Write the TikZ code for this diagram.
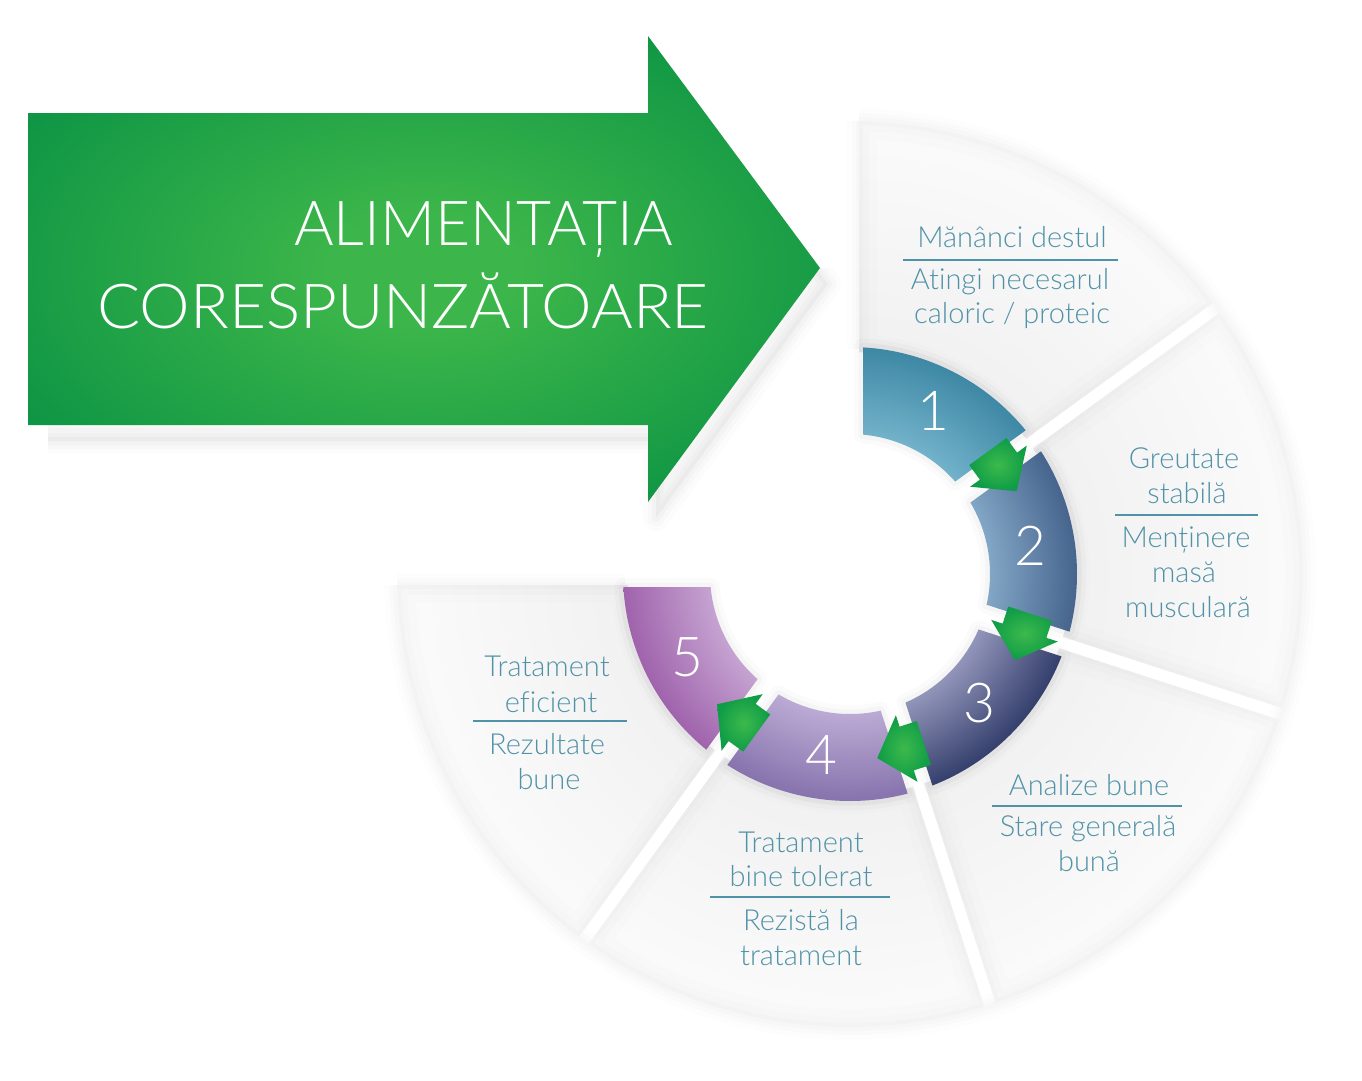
\documentclass[tikz,border=0pt]{standalone}
\usepackage{fontspec}
\setmainfont{Lato Light}[Ligatures=NoCommon]
\definecolor{gIn}{HTML}{3CB64A}
\definecolor{gOut}{HTML}{0A9244}
\definecolor{aIn}{HTML}{3DB94C}
\definecolor{aOut}{HTML}{0E9C46}
\definecolor{txt}{HTML}{5092A7}
\definecolor{pIn}{HTML}{F1F1F1}
\definecolor{pOut}{HTML}{FBFBFB}
\definecolor{s1i}{HTML}{72B2CA}\definecolor{s1o}{HTML}{3E88A5}
\definecolor{s2i}{HTML}{82A6C5}\definecolor{s2o}{HTML}{46648D}
\definecolor{s3i}{HTML}{9295BA}\definecolor{s3o}{HTML}{343F6C}
\definecolor{s4i}{HTML}{BBAAD4}\definecolor{s4o}{HTML}{8773AD}
\definecolor{s5i}{HTML}{C5A3D1}\definecolor{s5o}{HTML}{A063AC}
% the central 50bp square of a shading is mapped to the path's bounding box
\pgfdeclareradialshading{bigG}{\pgfpoint{0bp}{0bp}}{color(0bp)=(gIn); color(6bp)=(gIn); color(32bp)=(gOut); color(50bp)=(gOut)}
\pgfdeclareradialshading{paleS}{\pgfpoint{0bp}{0bp}}{color(0bp)=(pIn); color(12.4bp)=(pIn); color(25bp)=(pOut); color(50bp)=(pOut)}
\pgfdeclareradialshading{ringA}{\pgfpoint{0bp}{0bp}}{color(0bp)=(s1i); color(7.7bp)=(s1i); color(12.5bp)=(s1o); color(50bp)=(s1o)}
\pgfdeclareradialshading{ringB}{\pgfpoint{0bp}{0bp}}{color(0bp)=(s2i); color(7.7bp)=(s2i); color(12.5bp)=(s2o); color(50bp)=(s2o)}
\pgfdeclareradialshading{ringC}{\pgfpoint{0bp}{0bp}}{color(0bp)=(s3i); color(7.7bp)=(s3i); color(12.5bp)=(s3o); color(50bp)=(s3o)}
\pgfdeclareradialshading{ringD}{\pgfpoint{0bp}{0bp}}{color(0bp)=(s4i); color(7.7bp)=(s4i); color(12.5bp)=(s4o); color(50bp)=(s4o)}
\pgfdeclareradialshading{ringE}{\pgfpoint{0bp}{0bp}}{color(0bp)=(s5i); color(7.7bp)=(s5i); color(12.5bp)=(s5o); color(50bp)=(s5o)}
% #1 macro, #2 start angle, #3 end angle, #4 inner r, #5 outer r, #6 offset start, #7 offset end
\newcommand\mkpiece[7]{%
  \pgfmathsetmacro\aOs{#2-asin(#6/#5)}%
  \pgfmathsetmacro\aOe{#3+asin(#7/#5)}%
  \pgfmathsetmacro\aIs{#2-asin(#6/#4)}%
  \pgfmathsetmacro\aIe{#3+asin(#7/#4)}%
  \path[save path=#1] (\aOs:#5) arc[start angle=\aOs, end angle=\aOe, radius=#5]
     -- (\aIe:#4) arc[start angle=\aIe, end angle=\aIs, radius=#4] -- cycle;}
\newcommand\palepiece[1]{%
  \begin{scope}
    \path[clip, use path=#1];
    \shade[shading=paleS] (0,0) circle (454);
    \foreach \w/\o in {36/0.008, 20/0.010, 8/0.012}{\draw[use path=#1, line width=\w, black, opacity=\o];}
  \end{scope}}
\newcommand\ringpiece[2]{%
  \foreach \w/\o in {18/0.016, 9/0.022}{\draw[use path=#1, line width=\w, black, opacity=\o, line join=round];}
  \begin{scope}
    \path[clip, use path=#1];
    \shade[shading=#2] (0,0) circle (454);
  \end{scope}}
\tikzset{
  lbl/.style={text=txt, font=\fontsize{29}{35}\selectfont, anchor=base, inner sep=0pt},
  sepline/.style={draw=txt, line width=1.3},
  num/.style={text=white, font=\fontsize{55}{55}\selectfont, inner sep=0pt},
  title/.style={text=white, font=\fontsize{62}{70}\selectfont, inner sep=0pt, anchor=base west},
  garrow/.style={inner color=aIn, outer color=aOut}
}
\begin{document}
\begin{tikzpicture}[x=1pt,y=1pt]
\useasboundingbox (0,0) rectangle (1362,-1080);
\fill[white] (0,0) rectangle (1362,-1080);

% ---- shadow of the big arrow (only below / lower right)
\begin{scope}
  \clip (48,-268) rectangle (1000,-700);
  \begin{scope}[xshift=8, yshift=-16]
    \foreach \w/\o in {26/0.012, 16/0.016, 8/0.02}{
      \draw[line width=\w, black, opacity=\o, line join=round] (28,-113) -- (648,-113) -- (648,-36) -- (820,-268) -- (648,-502) -- (648,-425) -- (28,-425) -- cycle;}
    \fill[black, opacity=0.03] (28,-113) -- (648,-113) -- (648,-36) -- (820,-268) -- (648,-502) -- (648,-425) -- (28,-425) -- cycle;
  \end{scope}
\end{scope}
% ---- big green arrow
\shade[shading=bigG] (28,-113) -- (648,-113) -- (648,-36) -- (820,-268) -- (648,-502) -- (648,-425) -- (28,-425) -- cycle;
\node[title] (t1) at (294,-245) {\scalebox{0.977}[1]{ALIMENTAȚIA}};
\node[title] (t2) at (97,-328) {\scalebox{1.03}[1]{CORESPUNZĂTOARE}};

% ---- circular diagram
\begin{scope}[shift={(850,-574)}]
  % outer shadows
  \foreach \w/\o in {24/0.008, 14/0.010, 6/0.012}{
    \draw[line width=\w, black, opacity=\o] (88.9:454) arc[start angle=88.9, end angle=-178.6, radius=454];
    \draw[line width=\w, black, opacity=\o] (9,225) -- (9,453);
    \draw[line width=\w, black, opacity=\o] (-225,-11) -- (-453,-11);
  }
  \mkpiece\pA{90}{36}{222}{453}{9}{6}
  \mkpiece\pB{36}{-18}{222}{453}{6}{6}
  \mkpiece\pC{-18}{-72}{222}{453}{6}{6}
  \mkpiece\pD{-72}{-126}{222}{453}{6}{6}
  \mkpiece\pE{-126}{-180}{222}{453}{6}{11}
  \palepiece\pE
  \palepiece\pD
  \palepiece\pC
  \palepiece\pB
  \palepiece\pA

  % coloured ring
  \mkpiece\rA{90}{36}{140}{227}{13}{13}
  \mkpiece\rB{36}{-18}{140}{227}{13}{13}
  \mkpiece\rC{-18}{-72}{140}{227}{13}{13}
  \mkpiece\rD{-72}{-126}{140}{227}{13}{13}
  \mkpiece\rE{-126}{-180}{140}{227}{13}{13}
  \ringpiece\rA{ringA}
  \ringpiece\rB{ringB}
  \ringpiece\rC{ringC}
  \ringpiece\rD{ringD}
  \ringpiece\rE{ringE}

  % green arrows between the steps
  \foreach \t in {36,-18,-72,-126}{
    \begin{scope}[shift={(\t:183.5)}, rotate=\t-90]
      \shade[garrow] (-18,-23) -- (0,-23) -- (0,-35) -- (31,0) -- (0,35) -- (0,23) -- (-18,23) -- cycle;
    \end{scope}}

  % step numbers
  \node[num] (n1) at (63:183) {1};
  \node[num] (n2) at (9:183) {2};
  \node[num] (n3) at (-45:183) {3};
  \node[num] (n4) at (-99:183) {4};
  \node[num] (n5) at (-153:183) {5};
\end{scope}

% ---- labels
\node[lbl] (l1a) at (1012,-247) {Mănânci destul};
\draw[sepline] (903,-260) -- (1118,-260);
\node[lbl] (l1b) at (1010,-289) {Atingi necesarul};
\node[lbl] (l1c) at (1012,-323) {caloric / proteic};

\node[lbl] (l2a) at (1184,-468) {Greutate};
\node[lbl] (l2b) at (1187,-503) {stabilă};
\draw[sepline] (1115,-515) -- (1258,-515);
\node[lbl] (l2c) at (1186,-547) {Menținere};
\node[lbl] (l2d) at (1184,-582) {masă};
\node[lbl] (l2e) at (1188,-617) {musculară};

\node[lbl] (l3a) at (1089,-795) {Analize bune};
\draw[sepline] (992,-806) -- (1182,-806);
\node[lbl] (l3b) at (1088,-836) {Stare generală};
\node[lbl] (l3c) at (1089,-871) {bună};

\node[lbl] (l4a) at (801,-852) {Tratament};
\node[lbl] (l4b) at (801,-886) {bine tolerat};
\draw[sepline] (710,-897) -- (890,-897);
\node[lbl] (l4c) at (801,-930) {Rezistă la};
\node[lbl] (l4d) at (801,-965) {tratament};

\node[lbl] (l5a) at (547,-676) {Tratament};
\node[lbl] (l5b) at (551,-712) {eficient};
\draw[sepline] (473,-721) -- (627,-721);
\node[lbl] (l5c) at (547,-754) {Rezultate};
\node[lbl] (l5d) at (549,-789) {bune};
\end{tikzpicture}
\end{document}
